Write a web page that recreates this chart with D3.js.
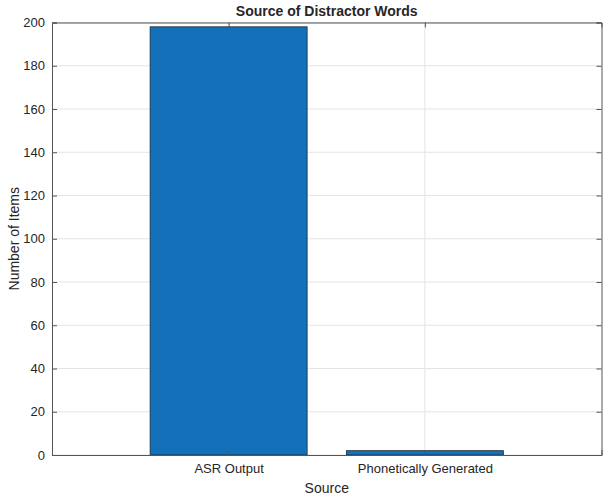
<!DOCTYPE html>
<html lang="en">
<head>
  <meta charset="UTF-8">
  <title>Source of Distractor Words</title>
  <script src="https://d3js.org/d3.v7.min.js"></script>
  <style>
    body { margin: 0; background: #fff; }
    text { font-family: "Liberation Sans", Arial, Helvetica, sans-serif; fill: #262626; }
  </style>
</head>
<body>
  <svg id="chart" width="609" height="499"></svg>
  <script>
    // data
    let categories = ['ASR Output', 'Phonetically Generated'];
    let counts = [198, 2];
    let yTicks = [0, 20, 40, 60, 80, 100, 120, 140, 160, 180, 200];

    let width = 609, height = 499;
    let margin = { top: 22.5, right: 7.5, bottom: 44, left: 52 };
    let w = width - margin.left - margin.right;
    let h = height - margin.top - margin.bottom;

    let svg = d3.select('#chart');
    let g = svg.append('g')
      .attr('transform', 'translate(' + margin.left + ',' + margin.top + ')');

    // categories sit at 1, 2 like matlab's bar()
    let x = d3.scaleLinear().domain([0.1, 2.9]).range([0, w]);
    let y = d3.scaleLinear().domain([0, 200]).range([h, 0]);
    let barW = 0.8;

    // grid
    g.append('g')
      .selectAll('line.hgrid')
      .data(yTicks)
      .join('line')
      .attr('x1', 0).attr('x2', w)
      .attr('y1', function (d) { return y(d); })
      .attr('y2', function (d) { return y(d); })
      .attr('stroke', '#e4e4e4').attr('stroke-width', 1);

    g.append('g')
      .selectAll('line.vgrid')
      .data(categories)
      .join('line')
      .attr('x1', function (d, i) { return x(i + 1); })
      .attr('x2', function (d, i) { return x(i + 1); })
      .attr('y1', 0).attr('y2', h)
      .attr('stroke', '#e4e4e4').attr('stroke-width', 1);

    // bars
    g.append('g')
      .selectAll('rect')
      .data(counts)
      .join('rect')
      .attr('x', function (d, i) { return x(i + 1 - barW / 2); })
      .attr('width', function () { return x(1 + barW) - x(1); })
      .attr('y', function (d) { return y(d); })
      .attr('height', function (d) { return h - y(d); })
      .attr('fill', '#1271b9')
      .attr('stroke', '#1c2a38')
      .attr('stroke-width', 0.8);

    // axes, ticks pointing inward
    let tickLen = 5;
    let axisLeft = d3.axisLeft(y).tickValues(yTicks).tickSize(-tickLen).tickPadding(7);
    let axisRight = d3.axisRight(y).tickValues(yTicks).tickSize(-tickLen).tickFormat('');
    let axisBottom = d3.axisBottom(x).tickValues([1, 2]).tickSize(-tickLen).tickPadding(9)
      .tickFormat(function (d) { return categories[d - 1]; });
    let axisTop = d3.axisTop(x).tickValues([1, 2]).tickSize(-tickLen).tickFormat('');

    g.append('g').attr('class', 'ax').call(axisLeft);
    g.append('g').attr('class', 'ax').attr('transform', 'translate(' + w + ',0)').call(axisRight);
    g.append('g').attr('class', 'ax').attr('transform', 'translate(0,' + h + ')').call(axisBottom);
    g.append('g').attr('class', 'ax').call(axisTop);

    g.selectAll('.ax path').attr('stroke', '#555').attr('stroke-width', 1);
    g.selectAll('.ax line').attr('stroke', '#555');
    g.selectAll('.ax text')
      .attr('font-size', 13)
      .attr('font-family', '"Liberation Sans", Arial, sans-serif')
      .attr('fill', '#262626');

    // title and labels
    svg.append('text')
      .attr('x', margin.left + w / 2)
      .attr('y', 16)
      .attr('text-anchor', 'middle')
      .attr('font-size', 14)
      .attr('font-weight', 'bold')
      .attr('fill', '#000')
      .text('Source of Distractor Words');

    svg.append('text')
      .attr('x', margin.left + w / 2)
      .attr('y', 493)
      .attr('text-anchor', 'middle')
      .attr('font-size', 14)
      .text('Source');

    svg.append('text')
      .attr('transform', 'translate(19,' + (margin.top + h / 2) + ') rotate(-90)')
      .attr('text-anchor', 'middle')
      .attr('font-size', 14)
      .text('Number of Items');
  </script>
</body>
</html>
